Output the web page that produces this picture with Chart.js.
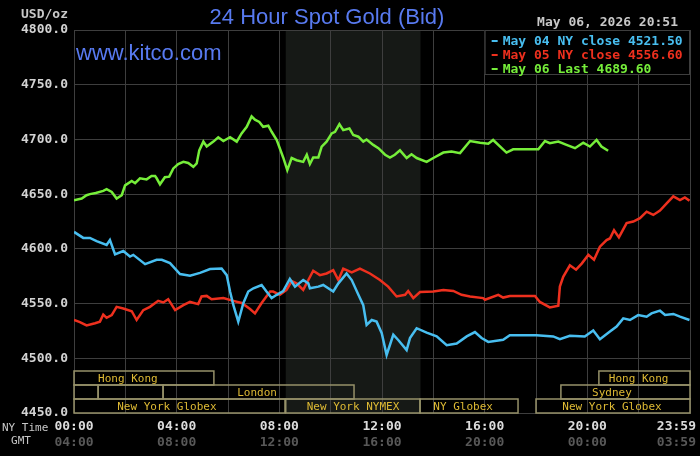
<!DOCTYPE html>
<html>
<head>
<meta charset="utf-8">
<script src="https://cdn.jsdelivr.net/npm/chart.js@4"></script>
<style>
  body { margin: 0; background: #000; }
  canvas { display: block; }
</style>
</head>
<body>
<canvas id="goldChart" width="700" height="456"></canvas>
<script>
// hours after midnight (NY time) and bid price
const may04Hours = [0.00, 0.36, 0.62, 0.88, 1.27, 1.40, 1.60, 1.92, 2.18, 2.31, 2.77, 3.22, 3.42, 3.74, 4.13, 4.52, 4.91, 5.30, 5.75, 5.95,
    6.08, 6.21, 6.40, 6.60, 6.79, 6.99, 7.31, 7.50, 7.70, 7.90, 8.15, 8.41, 8.61, 8.93, 9.13, 9.19, 9.52, 9.71, 10.10, 10.30,
    10.62, 10.82, 11.08, 11.27, 11.40, 11.60, 11.79, 11.99, 12.18, 12.44, 12.64, 12.96, 13.09, 13.35, 13.74, 14.13, 14.52, 14.91, 15.30, 15.62,
    15.88, 16.14, 16.72, 16.98, 18.02, 18.67, 18.93, 19.32, 19.90, 20.23, 20.49, 20.88, 21.14, 21.40, 21.66, 21.98, 22.31, 22.50, 22.83, 23.03,
    23.35, 23.61, 23.98];
const may04Values = [4615.5, 4610, 4610, 4607, 4603.5, 4608, 4595, 4598, 4593, 4594.5, 4586, 4590, 4590, 4587, 4577, 4575.5, 4578, 4581.5, 4582, 4576,
    4561, 4548.5, 4533.5, 4550.5, 4561, 4564, 4567, 4561, 4555, 4558, 4561.5, 4572.5, 4565.5, 4571.5, 4568.5, 4564, 4565.5, 4567, 4561, 4568.5,
    4577.5, 4571.5, 4558, 4548.5, 4530.5, 4535, 4533.5, 4523, 4503, 4521.5, 4516.5, 4507.5, 4518.5, 4527.5, 4523.5, 4520, 4512, 4513.5, 4520, 4524,
    4518.5, 4515, 4517, 4521, 4521, 4520, 4517.5, 4520.5, 4520, 4525.5, 4517.5, 4524.5, 4529, 4536.5, 4535, 4539.5, 4538, 4541, 4543.5, 4539.5,
    4540.5, 4538, 4535];

const may05Hours = [0.00, 0.23, 0.49, 0.82, 1.01, 1.14, 1.27, 1.47, 1.66, 1.92, 2.25, 2.44, 2.70, 2.96, 3.28, 3.48, 3.67, 3.94, 4.26, 4.52,
    4.84, 4.97, 5.17, 5.36, 5.82, 6.21, 6.53, 6.86, 7.05, 7.31, 7.64, 7.76, 8.02, 8.28, 8.48, 8.67, 8.93, 9.13, 9.32, 9.58,
    9.84, 10.10, 10.30, 10.49, 10.82, 11.14, 11.53, 11.92, 12.24, 12.57, 12.90, 13.02, 13.22, 13.48, 14.00, 14.39, 14.78, 15.10, 15.43, 15.94,
    16.01, 16.53, 16.72, 16.98, 17.96, 18.15, 18.54, 18.87, 18.93, 19.06, 19.32, 19.56, 19.78, 20.04, 20.26, 20.49, 20.75, 20.88, 21.04, 21.23,
    21.53, 21.79, 22.05, 22.31, 22.57, 22.83, 23.09, 23.35, 23.61, 23.80, 23.98];
const may05Values = [4535, 4533, 4530, 4532, 4533.5, 4540, 4537, 4539.5, 4547, 4545.5, 4543, 4535, 4544, 4547, 4552.5, 4551, 4554, 4544, 4548.5, 4551.5,
    4549.5, 4556.5, 4557, 4554, 4555, 4552.5, 4550.5, 4545, 4541, 4550.5, 4561, 4561, 4558, 4562.5, 4570.5, 4568.5, 4562.5, 4571.5, 4580, 4576,
    4577.5, 4580.5, 4571.5, 4582, 4578.5, 4582, 4577.5, 4571.5, 4565.5, 4556.5, 4558, 4561.5, 4555, 4560.5, 4561, 4562.5, 4561.5, 4558, 4556.5, 4555,
    4553.5, 4558, 4555.5, 4557, 4557, 4551.5, 4546.5, 4548, 4565.5, 4574.5, 4585, 4581, 4586.5, 4594.5, 4590, 4602, 4608, 4609.5, 4617, 4610.5,
    4623.5, 4625, 4628, 4634, 4631, 4635, 4641.5, 4648, 4644.5, 4647, 4644];

const may06Hours = [0.00, 0.30, 0.49, 0.62, 0.85, 1.14, 1.27, 1.47, 1.66, 1.86, 1.99, 2.25, 2.38, 2.57, 2.83, 3.02, 3.16, 3.22, 3.35, 3.54,
    3.71, 3.87, 4.06, 4.26, 4.45, 4.65, 4.78, 4.88, 5.04, 5.17, 5.43, 5.62, 5.82, 6.08, 6.34, 6.53, 6.73, 6.92, 7.05, 7.22,
    7.37, 7.57, 7.70, 7.90, 8.15, 8.31, 8.48, 8.67, 8.93, 9.07, 9.19, 9.32, 9.52, 9.65, 9.84, 10.04, 10.17, 10.34, 10.49, 10.73,
    10.88, 11.08, 11.27, 11.40, 11.66, 11.86, 12.12, 12.31, 12.50, 12.70, 12.96, 13.15, 13.35, 13.74, 14.00, 14.39, 14.71, 15.04, 15.43, 15.82,
    16.14, 16.33, 16.85, 17.11, 18.09, 18.35, 18.54, 18.87, 19.19, 19.52, 19.84, 20.10, 20.36, 20.55, 20.81];
const may06Values = [4644.5, 4646, 4649, 4650, 4651, 4653, 4654.5, 4652, 4646, 4649, 4658, 4662, 4660, 4664.5, 4663.5, 4666.5, 4666.5, 4664.5, 4659, 4665.5,
    4666, 4673.5, 4677.5, 4679.5, 4678.5, 4675, 4678, 4690, 4698, 4693.5, 4698, 4702, 4698.5, 4702, 4698, 4705.5, 4711.5, 4721, 4718, 4716,
    4711.5, 4712.5, 4707, 4699.5, 4683.5, 4672, 4683, 4681, 4679.5, 4686, 4677.5, 4683.5, 4683.5, 4693.5, 4698, 4705.5, 4707, 4714, 4708.5, 4710,
    4704, 4702.5, 4698, 4700, 4695, 4692, 4686, 4683.5, 4686, 4690, 4683, 4686.5, 4683, 4679.5, 4683, 4688, 4689, 4687.5, 4698.5, 4697,
    4696, 4699.5, 4688, 4691, 4691, 4698.5, 4696.5, 4698, 4695, 4692, 4697, 4693.5, 4699.5, 4693.5, 4689.6];

const seriesLabels = ['May 04 NY close 4521.50', 'May 05 NY close 4556.60', 'May 06 Last 4689.60'];

// axis ticks
const yTicks = [4450, 4500, 4550, 4600, 4650, 4700, 4750, 4800];
const xLabelHours = [0, 4, 8, 12, 16, 20, 24];
const nyTimeLabels = ['00:00', '04:00', '08:00', '12:00', '16:00', '20:00', '23:59'];
const gmtLabels = ['04:00', '08:00', '12:00', '16:00', '20:00', '00:00', '03:59'];

// trading sessions: row, start hour, end hour, name, hour the name sits at
const sessionRow = [0, 0, 1, 1, 1, 1, 2, 2, 2, 2];
const sessionStart = [0, 20.45, 0, 0.94, 3.47, 18.97, 0, 8.25, 13.48, 18.0];
const sessionEnd = [5.45, 24, 0.94, 3.47, 10.91, 24, 8.22, 13.48, 17.3, 24];
const sessionName = ['Hong Kong', 'Hong Kong', '', '', 'London', 'Sydney', 'New York Globex', 'New York NYMEX', 'NY Globex', 'New York Globex'];
const sessionLabelAt = [2.1, 22.0, 0, 0, 7.13, 20.96, 3.62, 10.87, 15.16, 20.96];
const nymexHours = [8.25, 13.5];

const BLUE = 'rgb(72,190,240)';
const RED = 'rgb(238,48,30)';
const GREEN = 'rgb(118,238,58)';
const GRID = 'rgb(62,62,62)';
const MONO = '"DejaVu Sans Mono", "Liberation Mono", monospace';

function toPoints(hours, values) {
    return hours.map((h, i) => ({ x: h, y: values[i] }));
}

const kitcoPlugin = {
    id: 'kitco',
    beforeDraw(chart) {
        const ctx = chart.ctx;
        const area = chart.chartArea;
        const x = chart.scales.x;
        ctx.save();
        ctx.fillStyle = '#000';
        ctx.fillRect(0, 0, chart.width, chart.height);
        ctx.fillStyle = 'rgb(22,25,22)';
        const x0 = x.getPixelForValue(nymexHours[0]);
        const x1 = x.getPixelForValue(nymexHours[1]);
        ctx.fillRect(x0, area.top, x1 - x0, area.bottom - area.top);
        ctx.restore();
    },
    beforeDatasetsDraw(chart) {
        const ctx = chart.ctx;
        const area = chart.chartArea;
        const x = chart.scales.x;
        const rowH = 14;
        ctx.save();
        ctx.strokeStyle = 'rgb(150,145,105)';
        ctx.lineWidth = 1.5;
        ctx.font = '11px ' + MONO;
        ctx.fillStyle = 'rgb(222,186,52)';
        ctx.textAlign = 'center';
        ctx.textBaseline = 'middle';
        for (let i = 0; i < sessionName.length; i++) {
            const top = area.bottom - (3 - sessionRow[i]) * rowH;
            const left = x.getPixelForValue(sessionStart[i]);
            const right = x.getPixelForValue(sessionEnd[i]);
            ctx.strokeRect(left, top, right - left, rowH);
            if (sessionName[i]) {
                ctx.fillText(sessionName[i], x.getPixelForValue(sessionLabelAt[i]), top + rowH / 2 + 1);
            }
        }
        ctx.restore();
    },
    afterDraw(chart) {
        const ctx = chart.ctx;
        const area = chart.chartArea;
        const x = chart.scales.x;
        ctx.save();

        // titles
        ctx.fillStyle = 'rgb(88,122,240)';
        ctx.font = '22px "Liberation Sans", Arial, sans-serif';
        ctx.textAlign = 'center';
        ctx.textBaseline = 'alphabetic';
        ctx.fillText('24 Hour Spot Gold (Bid)', 327, 24);
        ctx.textAlign = 'left';
        ctx.fillText('www.kitco.com', 76, 60);

        ctx.font = 'bold 13px ' + MONO;
        ctx.fillStyle = 'rgb(200,200,200)';
        ctx.fillText('USD/oz', 21, 18);
        ctx.textAlign = 'right';
        ctx.fillText('May 06, 2026 20:51', 678, 26);

        // legend box
        const lx = x.getPixelForValue(16);
        ctx.fillStyle = '#000';
        ctx.fillRect(lx, area.top, area.right - lx, 44);
        ctx.strokeStyle = GRID;
        ctx.lineWidth = 1;
        ctx.strokeRect(lx + 0.5, area.top + 0.5, area.right - lx - 1, 44);
        ctx.textAlign = 'left';
        chart.data.datasets.forEach((ds, i) => {
            ctx.fillStyle = ds.borderColor;
            const by = area.top + 11 + i * 14;
            ctx.fillRect(lx + 7, by - 1, 6, 2);
            ctx.textBaseline = 'middle';
            ctx.fillText(ds.label, lx + 18, by + 1);
        });

        // time axis labels
        ctx.textBaseline = 'middle';
        ctx.font = '11px ' + MONO;
        ctx.fillStyle = 'rgb(200,200,200)';
        ctx.textAlign = 'left';
        ctx.fillText('NY Time', 2, 428);
        ctx.textAlign = 'center';
        ctx.fillText('GMT', 21, 441);
        ctx.font = 'bold 13px ' + MONO;
        xLabelHours.forEach((h, i) => {
            let px = x.getPixelForValue(h);
            const w = ctx.measureText(nyTimeLabels[i]).width;
            if (px + w / 2 > chart.width - 4) px = chart.width - 4 - w / 2;
            ctx.fillStyle = 'rgb(220,220,220)';
            ctx.fillText(nyTimeLabels[i], px, 427);
            ctx.fillStyle = 'rgb(88,88,88)';
            ctx.fillText(gmtLabels[i], px, 443);
        });
        ctx.restore();
    }
};

new Chart(document.getElementById('goldChart'), {
    type: 'line',
    data: {
        datasets: [
            { label: seriesLabels[0], data: toPoints(may04Hours, may04Values), borderColor: BLUE },
            { label: seriesLabels[1], data: toPoints(may05Hours, may05Values), borderColor: RED },
            { label: seriesLabels[2], data: toPoints(may06Hours, may06Values), borderColor: GREEN }
        ]
    },
    options: {
        responsive: false,
        animation: false,
        devicePixelRatio: 1,
        layout: { padding: { top: 30, right: 10, bottom: 0, left: 0 } },
        elements: {
            line: { borderWidth: 2.5, tension: 0 },
            point: { radius: 0 }
        },
        plugins: {
            legend: { display: false },
            tooltip: { enabled: false },
            title: { display: false }
        },
        scales: {
            x: {
                type: 'linear',
                min: 0,
                max: 24,
                ticks: { display: false, stepSize: 2 },
                grid: { color: GRID, drawTicks: false },
                border: { color: GRID },
                afterFit: s => { s.height = 43; }
            },
            y: {
                min: yTicks[0],
                max: yTicks[yTicks.length - 1],
                afterBuildTicks: s => { s.ticks = yTicks.map(v => ({ value: v })); },
                ticks: {
                    callback: v => v.toFixed(1),
                    color: 'rgb(210,210,210)',
                    font: { family: MONO, size: 13, weight: 'bold' },
                    padding: 6
                },
                grid: { color: GRID, drawTicks: false },
                border: { color: GRID },
                afterFit: s => { s.width = 74; }
            }
        }
    },
    plugins: [kitcoPlugin]
});
</script>
</body>
</html>
